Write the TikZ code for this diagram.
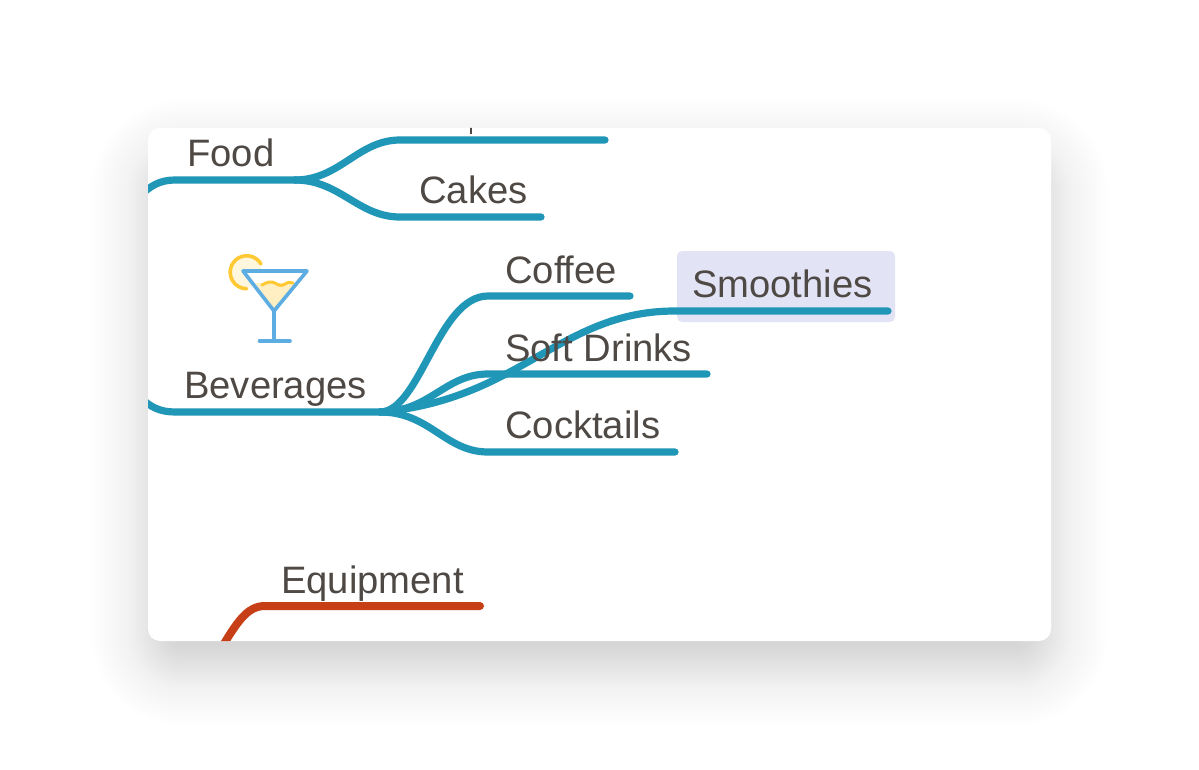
\documentclass[tikz,border=0pt]{standalone}
\usepackage{fontspec}
\setmainfont{Liberation Sans}
\usepackage{xcolor}
\definecolor{topicText}{HTML}{4E4944}
\definecolor{teal}{HTML}{2197B8}
\definecolor{rust}{HTML}{C63F17}
\definecolor{selectBox}{HTML}{E3E3F6}
\definecolor{glassBlue}{HTML}{5DADE2}
\definecolor{lemon}{HTML}{FFC933}
\definecolor{lemonPale}{HTML}{FFF6DE}
\definecolor{drink}{HTML}{FFEFC2}
\tikzset{
  branchLine/.style={draw=teal, line width=7.2pt, line cap=round},
  equipLine/.style={draw=rust, line width=8pt, line cap=round},
  topicLabel/.style={text=topicText, anchor=base west, inner sep=0pt, font=\fontsize{38.2}{40}\selectfont},
  glassLine/.style={draw=glassBlue, line width=3.6pt, line cap=round, line join=round},
  lemonLine/.style={draw=lemon, line width=3.6pt, line cap=round}
}

\begin{document}
\begin{tikzpicture}[x=1pt,y=-1pt]
  \useasboundingbox (0,0) rectangle (1199,770);
  \fill[white] (0,0) rectangle (1199,770);

  % shadow under the card
  \foreach \grow in {-60,-57,...,57}{
    \pgfmathsetmacro\layerOp{max(0.0022,0.0076*exp(-(\grow*\grow)/(2*26*26)))}
    \pgfmathsetmacro\layerRad{max(\grow+36,2)}
    \fill[black, fill opacity=\layerOp, rounded corners=\layerRad]
      ({148-\grow},{156-\grow}) rectangle ({1051+\grow},{669+\grow});
  }
  \fill[white, rounded corners=12] (148,128) rectangle (1051,641);

  \begin{scope}
    \clip[rounded corners=12] (148,128) rectangle (1051,641);

    \fill[selectBox, rounded corners=5] (677,251) rectangle (895,322);

    % connector ends
    \coordinate (foodIn) at (140,196);
    \coordinate (foodKnot) at (295,180);
    \coordinate (topStart) at (400,140);
    \coordinate (topEnd) at (605,140);
    \coordinate (cakesStart) at (400,217);
    \coordinate (cakesEnd) at (541,217);
    \coordinate (bevIn) at (140,397);
    \coordinate (bevKnot) at (380,412);
    \coordinate (coffeeStart) at (488,296);
    \coordinate (coffeeEnd) at (630,296);
    \coordinate (softStart) at (488,374);
    \coordinate (softEnd) at (707,374);
    \coordinate (cocktailStart) at (488,452);
    \coordinate (cocktailEnd) at (675,452);
    \coordinate (smoothStart) at (675,311);
    \coordinate (smoothEnd) at (888,311);
    \coordinate (equipIn) at (219,652);
    \coordinate (equipStart) at (265,606);
    \coordinate (equipEnd) at (480,606);

    \draw[branchLine] (foodIn) .. controls (150,186) and (160,180) .. (175,180) -- (foodKnot);
    \draw[branchLine] (foodKnot) .. controls (340,180) and (358,140) .. (topStart) -- (topEnd);
    \draw[branchLine] (foodKnot) .. controls (340,180) and (358,217) .. (cakesStart) -- (cakesEnd);

    \draw[branchLine] (bevIn) .. controls (150,407) and (160,412) .. (175,412) -- (bevKnot);
    \draw[branchLine] (bevKnot) .. controls (420,412) and (438,296) .. (coffeeStart) -- (coffeeEnd);
    \draw[branchLine] (bevKnot) .. controls (430,412) and (445,374) .. (softStart) -- (softEnd);
    \draw[branchLine] (bevKnot) .. controls (430,412) and (445,452) .. (cocktailStart) -- (cocktailEnd);
    \draw[branchLine] (bevKnot) .. controls (520,400) and (560,311) .. (smoothStart) -- (smoothEnd);

    \draw[equipLine] (equipIn) .. controls (237,622) and (247,606) .. (equipStart) -- (equipEnd);

    % clipped stroke of the hidden label
    \draw[topicText, line width=1.5pt] (471,126) -- (471,134);
  \end{scope}

  \node[topicLabel] (food) at (187,167) {Food};
  \node[topicLabel] (cakes) at (419,204) {Cakes};
  \node[topicLabel] (beverages) at (184,398) {Beverages};
  \node[topicLabel] (coffee) at (505,283) {Coffee};
  \node[topicLabel] (softDrinks) at (505,361) {Soft Drinks};
  \node[topicLabel] (cocktails) at (505,438) {Cocktails};
  \node[topicLabel] (smoothies) at (692,297) {Smoothies};
  \node[topicLabel] (equipment) at (281,593) {Equipment};

  % cocktail icon
  \fill[lemonPale] (246,272) circle (15.5);
  \draw[lemonLine] (261,264) arc (-30:-270:16.5 and 16.5);
  \fill[white] (243,271) -- (307,271) -- (274,311) -- cycle;
  \fill[drink] (255,283) -- (297,283) -- (274,311) -- cycle;
  \draw[lemonLine, line width=3pt] (262,285) .. controls (267,282) and (271,281) .. (275,283)
    .. controls (279,286) and (282,286) .. (285,284) .. controls (288,282) and (291,282) .. (293,283);
  \draw[glassLine] (243,271) -- (307,271) -- (274,311) -- cycle;
  \draw[glassLine] (274,311) -- (274,341);
  \draw[glassLine] (259.5,341) -- (290,341);
\end{tikzpicture}
\end{document}
